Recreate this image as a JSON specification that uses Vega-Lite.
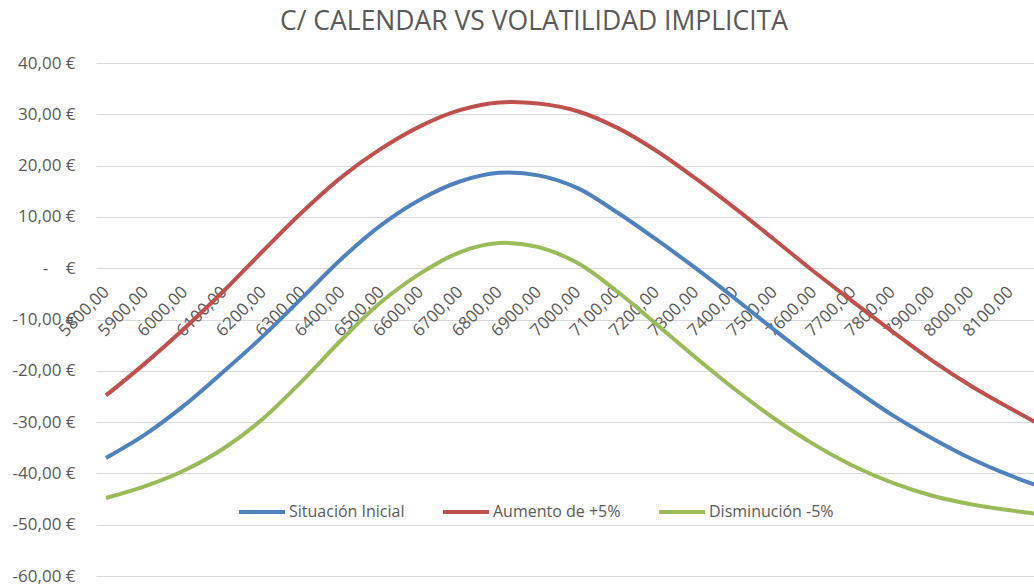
{
  "$schema": "https://vega.github.io/schema/vega-lite/v6.json",
  "width": 938,
  "height": 513,
  "autosize": {"type": "none"},
  "padding": {"left": 96, "top": 63, "right": 0, "bottom": 10},
  "background": "white",
  "title": {"text": "C/ CALENDAR VS VOLATILIDAD IMPLICITA", "fontSize": 26.5, "font": "Open Sans", "fontWeight": "normal", "color": "#595959", "anchor": "middle", "dx": -31, "offset": 19},
  "data": {"values": [
    {"strike": 5800, "serie": "Situación Inicial", "pl": -37.0},
    {"strike": 5900, "serie": "Situación Inicial", "pl": -32.4},
    {"strike": 6000, "serie": "Situación Inicial", "pl": -26.7},
    {"strike": 6100, "serie": "Situación Inicial", "pl": -20.1},
    {"strike": 6200, "serie": "Situación Inicial", "pl": -13.2},
    {"strike": 6300, "serie": "Situación Inicial", "pl": -5.7},
    {"strike": 6400, "serie": "Situación Inicial", "pl": 1.9},
    {"strike": 6500, "serie": "Situación Inicial", "pl": 8.4},
    {"strike": 6600, "serie": "Situación Inicial", "pl": 13.4},
    {"strike": 6700, "serie": "Situación Inicial", "pl": 16.9},
    {"strike": 6800, "serie": "Situación Inicial", "pl": 18.6},
    {"strike": 6900, "serie": "Situación Inicial", "pl": 18.1},
    {"strike": 7000, "serie": "Situación Inicial", "pl": 15.6},
    {"strike": 7100, "serie": "Situación Inicial", "pl": 10.9},
    {"strike": 7200, "serie": "Situación Inicial", "pl": 5.6},
    {"strike": 7300, "serie": "Situación Inicial", "pl": 0.0},
    {"strike": 7400, "serie": "Situación Inicial", "pl": -5.9},
    {"strike": 7500, "serie": "Situación Inicial", "pl": -12.0},
    {"strike": 7600, "serie": "Situación Inicial", "pl": -17.9},
    {"strike": 7700, "serie": "Situación Inicial", "pl": -23.4},
    {"strike": 7800, "serie": "Situación Inicial", "pl": -28.6},
    {"strike": 7900, "serie": "Situación Inicial", "pl": -33.1},
    {"strike": 8000, "serie": "Situación Inicial", "pl": -37.1},
    {"strike": 8100, "serie": "Situación Inicial", "pl": -40.4},
    {"strike": 8200, "serie": "Situación Inicial", "pl": -43.2},
    {"strike": 5800, "serie": "Aumento de +5%", "pl": -24.8},
    {"strike": 5900, "serie": "Aumento de +5%", "pl": -18.5},
    {"strike": 6000, "serie": "Aumento de +5%", "pl": -11.7},
    {"strike": 6100, "serie": "Aumento de +5%", "pl": -4.4},
    {"strike": 6200, "serie": "Aumento de +5%", "pl": 3.4},
    {"strike": 6300, "serie": "Aumento de +5%", "pl": 11.0},
    {"strike": 6400, "serie": "Aumento de +5%", "pl": 17.8},
    {"strike": 6500, "serie": "Aumento de +5%", "pl": 23.3},
    {"strike": 6600, "serie": "Aumento de +5%", "pl": 27.7},
    {"strike": 6700, "serie": "Aumento de +5%", "pl": 30.8},
    {"strike": 6800, "serie": "Aumento de +5%", "pl": 32.3},
    {"strike": 6900, "serie": "Aumento de +5%", "pl": 32.1},
    {"strike": 7000, "serie": "Aumento de +5%", "pl": 30.6},
    {"strike": 7100, "serie": "Aumento de +5%", "pl": 27.4},
    {"strike": 7200, "serie": "Aumento de +5%", "pl": 22.9},
    {"strike": 7300, "serie": "Aumento de +5%", "pl": 17.5},
    {"strike": 7400, "serie": "Aumento de +5%", "pl": 11.7},
    {"strike": 7500, "serie": "Aumento de +5%", "pl": 5.6},
    {"strike": 7600, "serie": "Aumento de +5%", "pl": -0.6},
    {"strike": 7700, "serie": "Aumento de +5%", "pl": -6.5},
    {"strike": 7800, "serie": "Aumento de +5%", "pl": -12.3},
    {"strike": 7900, "serie": "Aumento de +5%", "pl": -17.9},
    {"strike": 8000, "serie": "Aumento de +5%", "pl": -22.9},
    {"strike": 8100, "serie": "Aumento de +5%", "pl": -27.3},
    {"strike": 8200, "serie": "Aumento de +5%", "pl": -31.5},
    {"strike": 5800, "serie": "Disminución -5%", "pl": -44.8},
    {"strike": 5900, "serie": "Disminución -5%", "pl": -42.5},
    {"strike": 6000, "serie": "Disminución -5%", "pl": -39.4},
    {"strike": 6100, "serie": "Disminución -5%", "pl": -35.1},
    {"strike": 6200, "serie": "Disminución -5%", "pl": -29.3},
    {"strike": 6300, "serie": "Disminución -5%", "pl": -21.9},
    {"strike": 6400, "serie": "Disminución -5%", "pl": -13.9},
    {"strike": 6500, "serie": "Disminución -5%", "pl": -6.6},
    {"strike": 6600, "serie": "Disminución -5%", "pl": -1.0},
    {"strike": 6700, "serie": "Disminución -5%", "pl": 3.1},
    {"strike": 6800, "serie": "Disminución -5%", "pl": 4.9},
    {"strike": 6900, "serie": "Disminución -5%", "pl": 4.1},
    {"strike": 7000, "serie": "Disminución -5%", "pl": 1.0},
    {"strike": 7100, "serie": "Disminución -5%", "pl": -4.5},
    {"strike": 7200, "serie": "Disminución -5%", "pl": -10.9},
    {"strike": 7300, "serie": "Disminución -5%", "pl": -17.4},
    {"strike": 7400, "serie": "Disminución -5%", "pl": -23.6},
    {"strike": 7500, "serie": "Disminución -5%", "pl": -29.3},
    {"strike": 7600, "serie": "Disminución -5%", "pl": -34.3},
    {"strike": 7700, "serie": "Disminución -5%", "pl": -38.5},
    {"strike": 7800, "serie": "Disminución -5%", "pl": -41.8},
    {"strike": 7900, "serie": "Disminución -5%", "pl": -44.3},
    {"strike": 8000, "serie": "Disminución -5%", "pl": -46.0},
    {"strike": 8100, "serie": "Disminución -5%", "pl": -47.2},
    {"strike": 8200, "serie": "Disminución -5%", "pl": -48.2}
  ]},
  "mark": {"type": "line", "interpolate": "catmull-rom", "strokeWidth": 4, "clip": true},
  "encoding": {
    "x": {
      "field": "strike", "type": "quantitative",
      "scale": {"domain": [5774.6, 8161], "nice": false, "zero": false},
      "axis": {
        "values": [5800, 5900, 6000, 6100, 6200, 6300, 6400, 6500, 6600, 6700, 6800, 6900, 7000, 7100, 7200, 7300, 7400, 7500, 7600, 7700, 7800, 7900, 8000, 8100],
        "labelExpr": "replace(format(datum.value, '.2f'), '.', ',')",
        "labelAngle": -45, "labelAlign": "right", "labelBaseline": "middle",
        "labelPadding": 21, "offset": -308,
        "domain": false, "ticks": false, "grid": false, "title": null,
        "labelFontSize": 17, "labelFont": "Open Sans", "labelColor": "#595959",
        "labelOverlap": false, "labelFlush": false
      }
    },
    "y": {
      "field": "pl", "type": "quantitative",
      "scale": {"domain": [-60, 40], "nice": false},
      "axis": {
        "values": [-60, -50, -40, -30, -20, -10, 0, 10, 20, 30, 40],
        "labelExpr": "datum.value == 0 ? '-\u00a0\u00a0\u00a0 €' : (datum.value < 0 ? '-' : '') + replace(format(abs(datum.value), '.2f'), '.', ',') + ' €'",
        "grid": true, "gridColor": "#d9d9d9", "gridWidth": 1,
        "domain": false, "ticks": false, "labelPadding": 21, "title": null,
        "labelFontSize": 17, "labelFont": "Open Sans", "labelColor": "#595959"
      }
    },
    "color": {
      "field": "serie", "type": "nominal",
      "scale": {"domain": ["Situación Inicial", "Aumento de +5%", "Disminución -5%"], "range": ["#4F81BD", "#C0504D", "#9BBB59"]},
      "legend": {
        "orient": "none", "legendX": 141, "legendY": 424, "direction": "horizontal",
        "title": null, "symbolType": "stroke", "symbolStrokeWidth": 4, "symbolSize": 2116,
        "labelFontSize": 16, "labelFont": "Open Sans", "labelColor": "#595959",
        "labelOffset": 2, "columnPadding": 30, "padding": 0, "symbolOpacity": 1
      }
    }
  },
  "config": {"view": {"stroke": null}}
}
